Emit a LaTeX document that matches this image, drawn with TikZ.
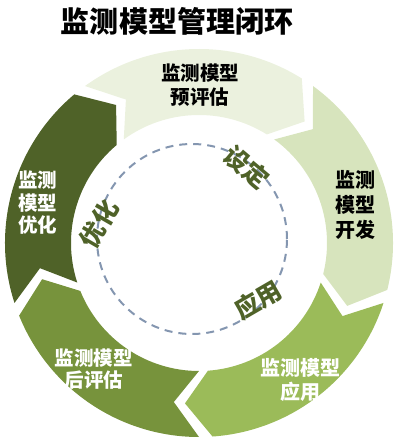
\documentclass[tikz,border=0pt]{standalone}
\usepackage{fontspec}
\newfontfamily\cjk{Noto Sans CJK SC}
\usetikzlibrary{positioning}
\definecolor{segA}{HTML}{EBF1DE}
\definecolor{segB}{HTML}{D7E4BD}
\definecolor{segC}{HTML}{9BBB59}
\definecolor{segD}{HTML}{77933C}
\definecolor{segE}{HTML}{4F6228}
\definecolor{loopline}{HTML}{8496B0}
\tikzstyle{t}=[font=\cjk\bfseries\fontsize{19.5}{24}\selectfont, align=center, text=black, inner sep=0pt]
\tikzstyle{w}=[t, text=white]
\tikzstyle{ring}=[font=\cjk\bfseries\fontsize{25}{25}\selectfont, text=segE, inner sep=0pt]

\begin{document}
\begin{tikzpicture}[x=1pt, y=1pt]
 \useasboundingbox (-199,-200) rectangle (201,243);

 % ring of arrows
 \foreach \a/\c in {126/segA, 54/segB, -18/segC, -90/segD, -162/segE}
   \fill[\c] (\a:194) arc[start angle=\a, end angle=\a-68, radius=194] -- (\a-77:161)
     -- (\a-68:128) arc[start angle=\a-68, end angle=\a, radius=128] -- (\a-9:161) -- cycle;

 % inner loop
 \coordinate (c) at (-7,4);
 \draw[loopline, line width=2pt, dash pattern=on 8pt off 6pt] (c) circle[radius=95];

 \node[font=\cjk\bfseries\fontsize{29}{29}\selectfont, inner sep=0pt] (title) at (-22,222) {监测模型管理闭环};

 \node[t] (pre) at (1,158) {监测模型\\预评估};
 \node[t, font=\cjk\bfseries\fontsize{20}{25}\selectfont] (dev) at (156,38) {监测\\模型\\开发};
 \node[w, font=\cjk\bfseries\fontsize{20}{24}\selectfont] (app) at (101,-137) {监测模型\\应用};
 \node[w, font=\cjk\bfseries\fontsize{19.5}{22}\selectfont] (post) at (-105,-126) {监测模型\\后评估};
 \node[w, font=\cjk\bfseries\fontsize{19.5}{22.5}\selectfont] (opt) at (-161,40) {监测\\模型\\优化};

 \node[ring, rotate=-40] (set) at (48,76) {设定};
 \node[ring, rotate=30] (use) at (59,-57) {应用};
 \node[ring, rotate=60] (tune) at (-100,19) {优化};
\end{tikzpicture}
\end{document}
